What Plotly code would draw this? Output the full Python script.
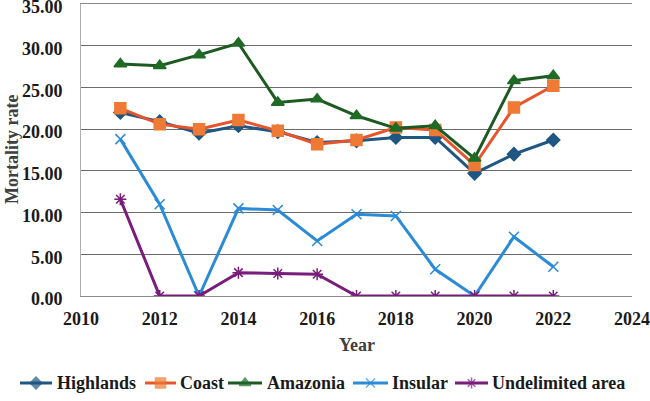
import plotly.graph_objects as go

years = [2011, 2012, 2013, 2014, 2015, 2016, 2017, 2018, 2019, 2020, 2021, 2022]
highlands = [22.0, 20.9, 19.5, 20.4, 19.7, 18.4, 18.6, 19.0, 19.0, 14.7, 17.0, 18.7]
coast = [22.5, 20.6, 20.0, 21.1, 19.8, 18.2, 18.7, 20.2, 19.9, 15.7, 22.6, 25.2]
amazonia = [27.8, 27.6, 28.9, 30.3, 23.2, 23.6, 21.6, 20.1, 20.4, 16.5, 25.8, 26.4]
insular = [18.8, 11.0, 0.0, 10.5, 10.3, 6.6, 9.8, 9.6, 3.2, 0.0, 7.1, 3.5]
undelimited = [11.6, 0.0, 0.0, 2.8, 2.7, 2.6, 0.0, 0.0, 0.0, 0.0, 0.0, 0.0]

W, H = 650, 401
font = "Liberation Serif, Times New Roman, serif"
# plot box in pixels
PL, PR, PT, PB = 81, 632, 4, 296

series = [
    ("Highlands", highlands, "#1f5682", "#1f5682", "diamond", 10),
    ("Coast", coast, "#ef7a35", "#e8542a", "square", 11),
    ("Amazonia", amazonia, "#1f6b26", "#1c5a22", "triangle-up", 11),
    ("Insular", insular, "#2b8bd6", "#2b8bd6", "x-thin-open", 10),
    ("Undelimited area", undelimited, "#7a1c7a", "#7a1c7a", "asterisk-open", 10),
]
# legend entry layout: (line start px, line end px, text start px)
legend_pos = [(20, 52, 55), (145, 176, 178), (228, 262, 265), (353, 388, 390), (455, 488, 490)]

fig = go.Figure()
for name, vals, mcol, lcol, sym, size in series:
    fig.add_trace(go.Scatter(
        x=years, y=vals, name=name, mode="lines+markers",
        line=dict(color=lcol, width=3),
        marker=dict(symbol=sym, size=size, color=mcol,
                    line=dict(color=mcol, width=1.5)),
        xaxis="x", yaxis="y", showlegend=False,
    ))

annotations = []
for (name, vals, mcol, lcol, sym, size), (x0, x1, tx) in zip(series, legend_pos):
    fig.add_trace(go.Scatter(
        x=[x0, (x0 + x1) / 2, x1], y=[0.5, 0.5, 0.5], mode="lines+markers",
        line=dict(color=lcol, width=3),
        marker=dict(symbol=sym, size=[0, size - 1, 0], color=mcol,
                    line=dict(color=mcol, width=1.5)),
        xaxis="x2", yaxis="y2", showlegend=False, hoverinfo="skip",
    ))
    annotations.append(dict(
        text=name, x=tx / W, y=1 - 383 / H, xref="paper", yref="paper",
        xanchor="left", yanchor="middle", showarrow=False,
        font=dict(family=font, size=18, color="#1a1a1a", weight="bold"),
    ))

annotations.append(dict(
    text="Year", x=(PL + PR) / 2 / W, y=1 - 345 / H, xref="paper", yref="paper",
    xanchor="center", yanchor="middle", showarrow=False,
    font=dict(family=font, size=18, color="#404040", weight="bold")))
annotations.append(dict(
    text="Mortality rate", x=12 / W, y=1 - (PT + PB) / 2 / H, xref="paper", yref="paper",
    xanchor="center", yanchor="middle", showarrow=False, textangle=-90,
    font=dict(family=font, size=18, color="#404040", weight="bold")))

fig.update_layout(
    width=W, height=H,
    margin=dict(l=0, r=0, t=0, b=0, pad=0, autoexpand=False),
    paper_bgcolor="white", plot_bgcolor="white",
    font=dict(family=font, size=18, color="#1a1a1a"),
    showlegend=False,
    annotations=annotations,
    xaxis=dict(domain=[PL / W, PR / W], range=[2010, 2024], dtick=2, tick0=2010,
               showgrid=False, zeroline=False, showline=True, mirror=True,
               linecolor="#8a8a8a", ticks="", automargin=False, ticklabelstandoff=6,
               ticklabeloverflow="allow", anchor="y",
               tickfont=dict(family=font, size=18, weight="bold", color="#1a1a1a")),
    yaxis=dict(domain=[1 - PB / H, 1 - PT / H], range=[0, 35], dtick=5, tickformat=".2f",
               showgrid=True, gridcolor="#6a6a6a", gridwidth=1, zeroline=False,
               showline=True, linecolor="#b0b0b0", linewidth=1, ticks="",
               automargin=False, ticklabelstandoff=14, ticklabeloverflow="allow",
               ticklabelshift=3, anchor="x",
               tickfont=dict(family=font, size=18, weight="bold", color="#1a1a1a")),
    xaxis2=dict(domain=[0, 1], range=[0, W], visible=False, anchor="y2", fixedrange=True),
    yaxis2=dict(domain=[1 - 401 / H, 1 - 365 / H], range=[0, 1], visible=False,
                anchor="x2", fixedrange=True),
)

fig.write_html("out.html", config={"displayModeBar": False},
               post_script="document.body.style.margin='0';")
